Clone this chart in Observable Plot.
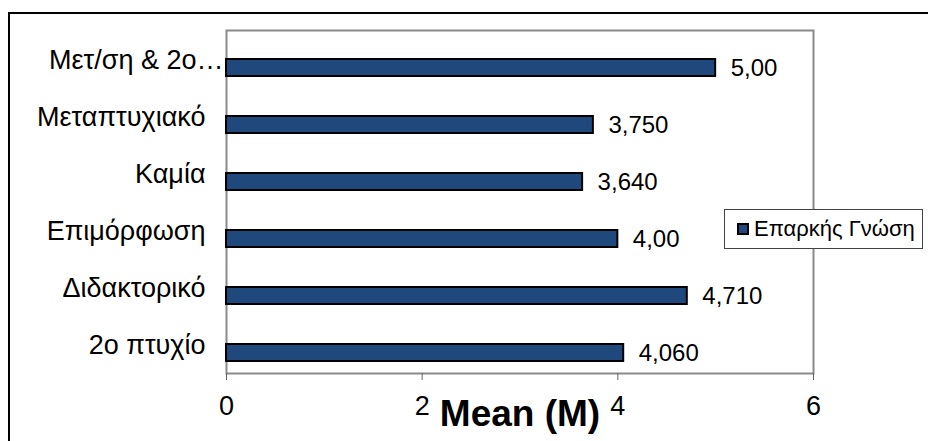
<!DOCTYPE html>
<html><head><meta charset="utf-8">
<script src="https://cdn.jsdelivr.net/npm/d3@7"></script>
<script src="https://cdn.jsdelivr.net/npm/@observablehq/plot@0.6"></script>
<style>
html,body{margin:0;padding:0;background:#fff;overflow:hidden;}
#wrap{position:relative;width:928px;height:441px;overflow:hidden;font-family:"Liberation Sans",Arial,sans-serif;}
#border{position:absolute;left:8px;top:12px;width:960px;height:480px;border:2px solid #000;box-sizing:border-box;}
#wrap svg{position:absolute;left:0;top:0;}
#legend{position:absolute;left:724px;top:209px;width:199px;height:40px;box-sizing:border-box;border:1px solid #444;background:#fff;display:flex;align-items:center;font-size:22px;color:#000;white-space:nowrap;}
#legend .sw{width:8px;height:8px;border:2px solid #000;margin-left:12px;margin-right:5px;}
</style></head><body><div id="wrap"><div id="border"></div></div>
<script>
const categories = ["Μετ/ση & 2ο…", "Μεταπτυχιακό", "Καμία", "Επιμόρφωση", "Διδακτορικό", "2ο πτυχίο"];
const values = [5.00, 3.75, 3.64, 4.00, 4.71, 4.06];
const valueLabels = ["5,00", "3,750", "3,640", "4,00", "4,710", "4,060"];
const xTicks = [0, 2, 4, 6];
const seriesName = "Επαρκής Γνώση";
const xTitle = "Mean (M)";
const barColor = "#1f497d";

const data = categories.map((c, i) => ({c, v: values[i], l: valueLabels[i]}));
const font = "'Liberation Sans', Arial, sans-serif";

const chart = Plot.plot({
  width: 928, height: 441,
  marginLeft: 226, marginRight: 115, marginTop: 30, marginBottom: 68,
  style: {fontFamily: font, background: "transparent", color: "#000"},
  x: {domain: [0, 6], label: null},
  y: {domain: categories, padding: 0, label: null},
  marks: [
    Plot.frame({stroke: "#8a8a8a", strokeWidth: 2}),
    Plot.barX(data, {x: "v", y: "c", fill: barColor, stroke: "#000", strokeWidth: 2, insetTop: 28, insetBottom: 12}),
    Plot.text(data, {x: "v", y: "c", text: "l", textAnchor: "start", dx: 15, dy: 8, fontSize: 24, fill: "#000"}),
    Plot.axisX({ticks: xTicks, tickSize: 7, tickPadding: 15, fontSize: 27, label: null, stroke: "#666", fill: "#000", tickFormat: d => String(d)}),
    Plot.axisY({ticks: categories.slice(1), tickSize: 0, tickPadding: 21, fontSize: 27, label: null, fill: "#000"}),
    Plot.axisY({ticks: categories.slice(0, 1), tickSize: 0, tickPadding: 3, fontSize: 27, label: null, fill: "#000"}),
    Plot.text([xTitle], {frameAnchor: "bottom", dy: 52, fontSize: 37, fontWeight: "bold", fill: "#000"})
  ]
});
const wrap = document.getElementById("wrap");
wrap.appendChild(chart);
const legend = document.createElement("div");
legend.id = "legend";
const sw = document.createElement("span");
sw.className = "sw";
sw.style.background = barColor;
legend.appendChild(sw);
legend.appendChild(document.createTextNode(seriesName));
wrap.appendChild(legend);
</script>
</body></html>
